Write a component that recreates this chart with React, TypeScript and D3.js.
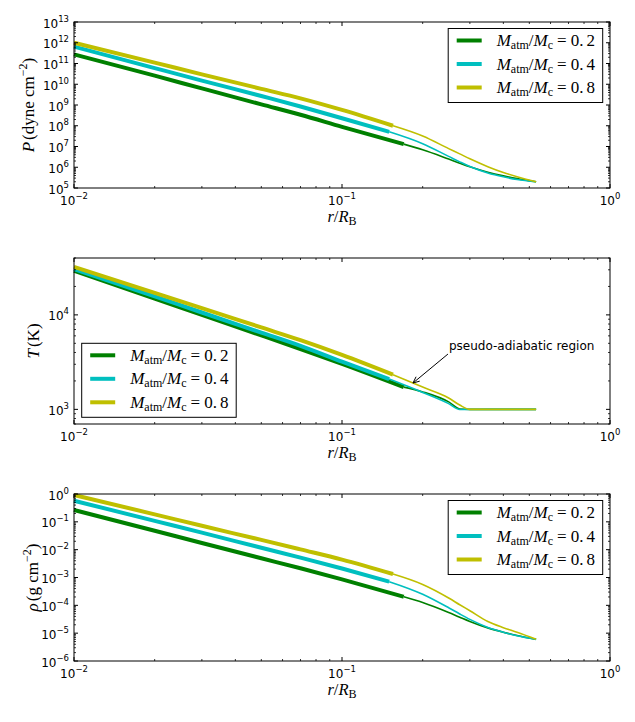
import * as d3 from "d3";

// radius r / R_B: shared inner grid, per-curve end of the thick (adiabatic) part, shared outer grid
const R_INNER = [0.01, 0.02, 0.03, 0.05, 0.07, 0.1];
const R_SPLIT = [0.17, 0.15, 0.155];
const R_OUTER = [0.2, 0.25, 0.275, 0.3, 0.35, 0.4, 0.45, 0.53];

const RATIO_LABELS = ["0.2", "0.4", "0.8"];
const COLORS = ["#008000", "#00bfbf", "#bfbf00"];

// pressure (dyne cm^-2)
const P_02 = [2.75e11, 2.6e10, 6.3e9, 1.07e9, 3.4e8, 8.9e7, 1.3e7, 6.9e6, 2.48e6, 1.58e6, 1.06e6, 5.8e5, 3.84e5, 2.82e5, 2.0e5];
const P_04 = [6.5e11, 6.0e10, 1.5e10, 2.7e9, 8.5e8, 2.3e8, 5.1e7, 1.36e7, 3.34e6, 1.82e6, 1.08e6, 5.3e5, 3.45e5, 2.57e5, 2.0e5];
const P_08 = [1.0e12, 1.1e11, 3.0e10, 6.0e9, 2.1e9, 5.8e8, 1.0e8, 3.2e7, 7.9e6, 4.4e6, 2.55e6, 1.07e6, 5.6e5, 3.5e5, 2.0e5];

// temperature (K)
const T_02 = [29300, 14900, 10000, 6070, 4350, 3030, 1720, 1530, 1200, 1010, 1000, 1000, 1000, 1000, 1000];
const T_04 = [30500, 15700, 10600, 6500, 4710, 3200, 2090, 1510, 1150, 998, 995, 1000, 1000, 1000, 1000];
const T_08 = [32200, 17100, 11800, 7360, 5400, 3770, 2330, 1720, 1320, 1110, 1000, 1000, 1000, 1000, 1000];

// density (g cm^-2 as labelled)
const RHO_02 = [0.266, 0.048, 0.0174, 4.9e-3, 2.14e-3, 8.6e-4, 2.04e-4, 1.27e-4, 5.56e-5, 3.76e-5, 2.65e-5, 1.55e-5, 1.08e-5, 8.2e-6, 6.0e-6];
const RHO_04 = [0.575, 0.108, 0.041, 0.0117, 5.2e-3, 2.1e-3, 7.1e-4, 2.51e-4, 8.2e-5, 4.9e-5, 3.13e-5, 1.61e-5, 1.08e-5, 8.1e-6, 6.0e-6];
const RHO_08 = [0.92, 0.186, 0.072, 0.0224, 0.0102, 4.4e-3, 1.33e-3, 5.6e-4, 1.83e-4, 1.05e-4, 6.4e-5, 2.63e-5, 1.58e-5, 1.07e-5, 6.0e-6];

const ANNOTATION = { r: 0.184, T: 1900, text: "pseudo-adiabatic region" };

const W = 635;
const H = 722;
const LEFT = 74;
const RIGHT = 610;
const SANS = "DejaVu Sans, sans-serif";
const SERIF = "Liberation Serif, DejaVu Serif, serif";

const xScale = d3.scaleLog().domain([0.01, 1]).range([LEFT, RIGHT]);

function logTicks(lo: number, hi: number) {
  const majors: number[] = [];
  const minors: number[] = [];
  const e0 = Math.floor(Math.log10(lo) + 1e-9);
  const e1 = Math.ceil(Math.log10(hi) - 1e-9);
  for (let e = e0; e <= e1; e++) {
    const base = Math.pow(10, e);
    if (base >= lo * 0.999 && base <= hi * 1.001) majors.push(e);
    for (let k = 2; k < 10; k++) {
      const v = k * base;
      if (v >= lo * 0.999 && v <= hi * 1.001) minors.push(v);
    }
  }
  return { majors, minors };
}

const fmtExp = (e: number) => (e < 0 ? "\u2212" + Math.abs(e) : String(e));

interface PanelProps {
  top: number;
  bottom: number;
  domain: [number, number];
  series: number[][];
  ylabel: { sym: string; unit: string; sup?: string };
  ylabelX: number;
  legendAt: "tr" | "bl";
  annotate?: boolean;
}

const Legend = ({ lx, ly }: { lx: number; ly: number }) => (
  <g>
    <rect x={lx} y={ly} width={154.5} height={74} fill="#fff" stroke="#000" strokeWidth={1} />
    {RATIO_LABELS.map((lab, i) => {
      const ry = ly + 12 + i * 23.5;
      return (
        <g key={lab}>
          <line x1={lx + 8.5} x2={lx + 33.5} y1={ry} y2={ry} stroke={COLORS[i]} strokeWidth={4} />
          <text x={lx + 48.5} y={ry + 5.5} fontFamily={SERIF} fontSize={17} fill="#000">
            <tspan fontStyle="italic">M</tspan>
            <tspan fontSize={12} dy={3}>atm</tspan>
            <tspan dy={-3}>/</tspan>
            <tspan fontStyle="italic">M</tspan>
            <tspan fontSize={12} dy={3}>c</tspan>
            <tspan dy={-3} dx={4}>=</tspan>
            <tspan dx={4}>0.</tspan>
            <tspan dx={3}>{lab.slice(2)}</tspan>
          </text>
        </g>
      );
    })}
  </g>
);

const Panel = ({ top, bottom, domain, series, ylabel, ylabelX, legendAt, annotate }: PanelProps) => {
  const yScale = d3.scaleLog().domain(domain).range([bottom, top]);
  const xt = logTicks(0.01, 1);
  const yt = logTicks(domain[0], domain[1]);

  const line = d3
    .line<[number, number]>()
    .x((d) => xScale(d[0]))
    .y((d) => yScale(d[1]))
    .curve(d3.curveMonotoneX);

  const curves = series.map((vals, i) => {
    const rs = [...R_INNER, R_SPLIT[i], ...R_OUTER];
    const pts = rs.map((r, j) => [r, vals[j]] as [number, number]);
    const n = R_INNER.length;
    return { thick: pts.slice(0, n + 1), thin: pts.slice(n), color: COLORS[i] };
  });

  const midY = (top + bottom) / 2;
  const midX = (LEFT + RIGHT) / 2;

  let arrow = null;
  if (annotate) {
    const tx = xScale(ANNOTATION.r);
    const ty = yScale(ANNOTATION.T);
    const sx = tx + 35;
    const sy = ty - 29;
    const ang = Math.atan2(ty - sy, tx - sx);
    const hl = 7;
    const spread = 0.42;
    const h1 = [tx - hl * Math.cos(ang - spread), ty - hl * Math.sin(ang - spread)];
    const h2 = [tx - hl * Math.cos(ang + spread), ty - hl * Math.sin(ang + spread)];
    arrow = (
      <g>
        <line x1={sx} y1={sy} x2={tx} y2={ty} stroke="#000" strokeWidth={1} />
        <polyline
          points={`${h1[0]},${h1[1]} ${tx},${ty} ${h2[0]},${h2[1]}`}
          fill="none"
          stroke="#000"
          strokeWidth={1}
        />
        <text x={tx + 36} y={ty - 33.5} fontFamily={SANS} fontSize={12} fill="#000">
          {ANNOTATION.text}
        </text>
      </g>
    );
  }

  return (
    <g>
      {curves.map((c, i) => (
        <g key={i}>
          <path d={line(c.thick) || ""} fill="none" stroke={c.color} strokeWidth={4} />
          <path d={line(c.thin) || ""} fill="none" stroke={c.color} strokeWidth={1.6} />
        </g>
      ))}

      {/* x ticks, inward on bottom and top */}
      {xt.minors.map((v) => (
        <g key={"xm" + v}>
          <line x1={xScale(v)} x2={xScale(v)} y1={bottom} y2={bottom - 2} stroke="#000" strokeWidth={0.8} />
          <line x1={xScale(v)} x2={xScale(v)} y1={top} y2={top + 2} stroke="#000" strokeWidth={0.8} />
        </g>
      ))}
      {xt.majors.map((e) => {
        const x = xScale(Math.pow(10, e));
        return (
          <g key={"xM" + e}>
            <line x1={x} x2={x} y1={bottom} y2={bottom - 4} stroke="#000" strokeWidth={1} />
            <line x1={x} x2={x} y1={top} y2={top + 4} stroke="#000" strokeWidth={1} />
            <text x={x} y={bottom + 17} textAnchor="middle" fontFamily={SANS} fontSize={12} fill="#000">
              10<tspan fontSize={8.5} dy={-6}>{fmtExp(e)}</tspan>
            </text>
          </g>
        );
      })}

      {/* y ticks, inward on left and right */}
      {yt.minors.map((v) => (
        <g key={"ym" + v}>
          <line x1={LEFT} x2={LEFT + 2} y1={yScale(v)} y2={yScale(v)} stroke="#000" strokeWidth={0.8} />
          <line x1={RIGHT} x2={RIGHT - 2} y1={yScale(v)} y2={yScale(v)} stroke="#000" strokeWidth={0.8} />
        </g>
      ))}
      {yt.majors.map((e) => {
        const y = yScale(Math.pow(10, e));
        return (
          <g key={"yM" + e}>
            <line x1={LEFT} x2={LEFT + 4} y1={y} y2={y} stroke="#000" strokeWidth={1} />
            <line x1={RIGHT} x2={RIGHT - 4} y1={y} y2={y} stroke="#000" strokeWidth={1} />
            <text x={LEFT - 5} y={y + 5.5} textAnchor="end" fontFamily={SANS} fontSize={12} fill="#000">
              10<tspan fontSize={8.5} dy={-6}>{fmtExp(e)}</tspan>
            </text>
          </g>
        );
      })}

      <rect x={LEFT} y={top} width={RIGHT - LEFT} height={bottom - top} fill="none" stroke="#000" strokeWidth={1} />

      {legendAt === "tr" ? (
        <Legend lx={RIGHT - 7.3 - 154.5} ly={top + 6.5} />
      ) : (
        <Legend lx={LEFT + 7.7} ly={bottom - 6.7 - 74} />
      )}

      {arrow}

      {/* axis labels */}
      <text x={midX} y={bottom + 34} textAnchor="middle" fontFamily={SERIF} fontSize={16.5} fill="#000">
        <tspan fontStyle="italic">r</tspan>
        <tspan>/</tspan>
        <tspan fontStyle="italic">R</tspan>
        <tspan fontSize={12} dy={3}>B</tspan>
      </text>
      <text
        transform={`translate(${ylabelX},${midY}) rotate(-90)`}
        textAnchor="middle"
        dy={6}
        fontFamily={SERIF}
        fontSize={17}
        fill="#000"
      >
        <tspan fontStyle="italic">{ylabel.sym}</tspan>
        <tspan dx={2}>{ylabel.unit}</tspan>
        {ylabel.sup ? (
          <>
            <tspan fontSize={12} dy={-7}>{ylabel.sup}</tspan>
            <tspan dy={7}>)</tspan>
          </>
        ) : null}
      </text>
    </g>
  );
};

export default function App() {
  return (
    <svg
      width={W}
      height={H}
      viewBox={`0 0 ${W} ${H}`}
      style={{ position: "absolute", left: 0, top: 0, background: "#fff" }}
    >
      <rect width={W} height={H} fill="#fff" />
      <Panel
        top={22}
        bottom={188}
        domain={[1e5, 1e13]}
        series={[P_02, P_04, P_08]}
        ylabel={{ sym: "P", unit: "(dyne cm", sup: "\u22122" }}
        ylabelX={28}
        legendAt="tr"
      />
      <Panel
        top={258}
        bottom={424}
        domain={[700, 40000]}
        series={[T_02, T_04, T_08]}
        ylabel={{ sym: "T", unit: "(K)" }}
        ylabelX={33}
        legendAt="bl"
        annotate
      />
      <Panel
        top={494}
        bottom={661}
        domain={[1e-6, 1]}
        series={[RHO_02, RHO_04, RHO_08]}
        ylabel={{ sym: "\u03c1", unit: "(g cm", sup: "\u22122" }}
        ylabelX={32}
        legendAt="tr"
      />
    </svg>
  );
}
